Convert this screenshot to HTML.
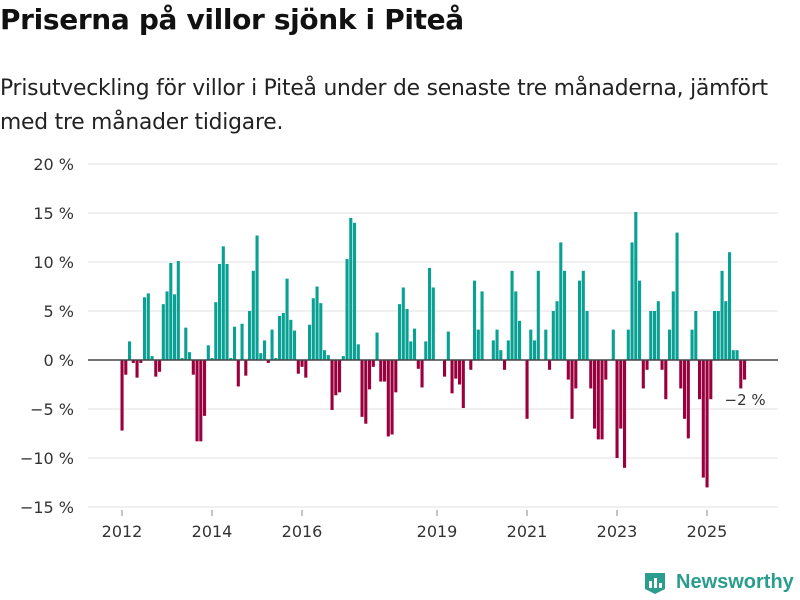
<!DOCTYPE html>
<html><head><meta charset="utf-8"><style>
body{margin:0;width:800px;height:600px;background:#fff;font-family:"Liberation Sans","DejaVu Sans",sans-serif;overflow:hidden;position:relative}
#title{position:absolute;left:0;top:3px;font-size:28px;font-weight:bold;color:#111;font-family:"DejaVu Sans","Liberation Sans",sans-serif;letter-spacing:-0.35px}
#sub{position:absolute;left:0;top:72px;font-size:21.8px;line-height:34px;color:#222;font-family:"DejaVu Sans","Liberation Sans",sans-serif;letter-spacing:-0.2px;white-space:nowrap}
svg{position:absolute;left:0;top:0}
</style></head><body>
<div id="title">Priserna på villor sjönk i Piteå</div>
<div id="sub">Prisutveckling för villor i Piteå under de senaste tre månaderna, jämfört<br>med tre månader tidigare.</div>
<svg id="chart" width="800" height="600"></svg>
<script>
const yTicks=[20,15,10,5,0,-5,-10,-15];
const yTickLabels=["20 %","15 %","10 %","5 %","0 %","\u22125 %","\u221210 %","\u221215 %"];
const xYears=[2012,2014,2016,2019,2021,2023,2025];
const startYear=2012;
const values=[-7.2,-1.5,1.9,-0.3,-1.8,-0.3,6.4,6.8,0.4,-1.7,-1.2,5.7,7.0,9.9,6.7,10.1,0.2,3.3,0.8,-1.5,-8.3,-8.3,-5.7,1.5,0.2,5.9,9.8,11.6,9.8,0.2,3.4,-2.7,3.7,-1.6,5.0,9.1,12.7,0.7,2.0,-0.3,3.1,0.2,4.5,4.8,8.3,4.1,3.0,-1.4,-0.7,-1.8,3.6,6.3,7.5,5.8,1.0,0.5,-5.1,-3.6,-3.3,0.4,10.3,14.5,14.0,1.6,-5.8,-6.5,-3.0,-0.7,2.8,-2.2,-2.2,-7.8,-7.6,-3.3,5.7,7.4,5.2,1.9,3.2,-0.9,-2.8,1.9,9.4,7.4,0,0,-1.7,2.9,-3.4,-1.9,-2.5,-4.9,0,-1.0,8.1,3.1,7.0,0,0,2.0,3.1,1.0,-1.0,2.0,9.1,7.0,4.0,0,-6.0,3.1,2.0,9.1,0,3.1,-1.0,5.0,6.0,12.0,9.1,-2.0,-6.0,-2.9,8.1,9.1,5.0,-2.9,-7.0,-8.1,-8.1,-2.0,0,3.1,-10.0,-7.0,-11.0,3.1,12.0,15.1,8.1,-2.9,-1.0,5.0,5.0,6.0,-1.0,-4.0,3.1,7.0,13.0,-2.9,-6.0,-8.0,3.1,5.0,-4.0,-12.0,-13.0,-4.0,5.0,5.0,9.1,6.0,11.0,1.0,1.0,-2.9,-2.0];
const lastLabel="\u22122 %";
const NS="http://www.w3.org/2000/svg";
const svg=document.getElementById('chart');
const y=v=>360-v*9.8;
const x=m=>122+m*3.75;
function mk(t,a){const e=document.createElementNS(NS,t);for(const k in a)e.setAttribute(k,a[k]);svg.appendChild(e);return e;}
yTicks.forEach((t,i)=>{
  if(t!==0){const g=mk('line',{x1:88,x2:778,y1:y(t),y2:y(t),stroke:'#e0e0e0','stroke-width':1});
  
  }
  const l=mk('text',{x:74,y:y(t)+6,'text-anchor':'end','font-size':16,fill:'#333','font-family':'DejaVu Sans, Liberation Sans, sans-serif'});
  l.textContent=yTickLabels[i];
  
  
});
values.forEach((v,i)=>{
  const r=mk('rect',{x:x(i)-1.5,width:3.1,y:Math.min(y(v),360),height:Math.abs(y(v)-360),fill:v>=0?'#0aa195':'#99003d'});
  
  
});
const z=mk('line',{x1:88,x2:778,y1:360,y2:360,stroke:'#444','stroke-width':1.5});


xYears.forEach(yr=>{
  const m=(yr-startYear)*12;
  const t=mk('line',{x1:x(m),x2:x(m),y1:510,y2:516,stroke:'#888','stroke-width':1});
  
  
  const l=mk('text',{x:x(m),y:537,'text-anchor':'middle','font-size':16,fill:'#333','font-family':'DejaVu Sans, Liberation Sans, sans-serif'});
  l.textContent=yr;
  
  
});
const li=values.length-1;
const ll=mk('text',{x:x(li)-20,y:405,'font-size':15,fill:'#333','font-family':'DejaVu Sans, Liberation Sans, sans-serif'});
ll.textContent=lastLabel;


</script>
<div style="position:absolute;left:643px;top:569px;display:flex;align-items:center">
<svg width="24" height="26" style="position:static"><path d="M2 4 H22 V20 L12 25 L2 20 Z" fill="#2a9d8f"/><rect x="6" y="12" width="3" height="7" fill="#fff"/><rect x="11" y="9" width="3" height="10" fill="#fff"/><rect x="16" y="14" width="3" height="5" fill="#fff"/></svg>
<span style="font-size:20px;font-weight:bold;color:#2a9d8f;margin-left:9px;font-family:'Liberation Sans',sans-serif">Newsworthy</span>
</div>
</body></html>
